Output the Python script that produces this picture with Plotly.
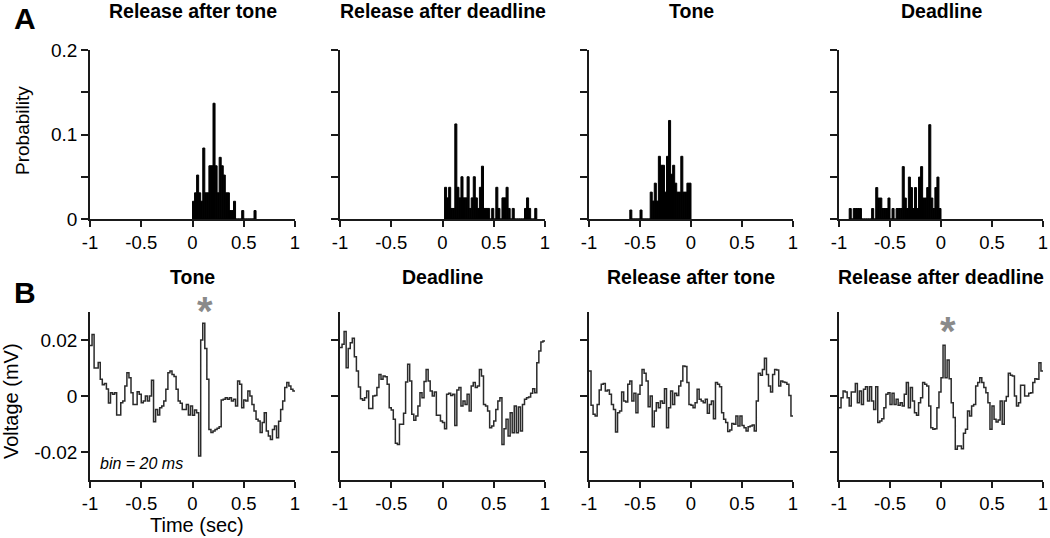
import plotly.graph_objects as go

BIN = 0.02
W, H = 1050, 538

# ---------------- Panel A: response-time histograms (probability per 20 ms bin) ----------------
rel_tone_start = 0.0
rel_tone_prob = [0.021, 0.031, 0.052, 0.031, 0.021, 0.084, 0.031, 0.031, 0.063, 0.063,
                 0.137, 0.063, 0.031, 0.073, 0.063, 0.052, 0.031, 0.031, 0.010, 0.010,
                 0.021, 0.0, 0.0, 0.0, 0.010, 0.0, 0.0, 0.0, 0.0, 0.0, 0.010]

rel_deadline_start = 0.02
rel_deadline_prob = [0.0375, 0.025, 0.0375, 0.0125, 0.0125, 0.1125, 0.0375, 0.025, 0.05, 0.025,
                     0.025, 0.05, 0.0125, 0.025, 0.05, 0.025, 0.0125, 0.0375, 0.0625, 0.0125,
                     0.0125, 0.0125, 0.0, 0.0125, 0.0, 0.0375, 0.0125, 0.0, 0.025, 0.025,
                     0.0375, 0.0125, 0.0, 0.0125, 0.0, 0.0, 0.0, 0.0, 0.0, 0.0125,
                     0.025, 0.0125, 0.0, 0.0, 0.0125]

tone_start = -0.60
tone_prob = [0.0106, 0.0, 0.0, 0.0, 0.0, 0.0106, 0.0, 0.0, 0.0, 0.0,
             0.0318, 0.0212, 0.0424, 0.0212, 0.0742, 0.0636, 0.0636, 0.0318, 0.0742, 0.1166,
             0.053, 0.0636, 0.0424, 0.0318, 0.0318, 0.0742, 0.0318, 0.0318, 0.0424, 0.0424]

deadline_start = -0.90
deadline_prob = [0.0124, 0.0, 0.0124, 0.0124, 0.0124, 0.0124, 0.0, 0.0, 0.0, 0.0,
                 0.0, 0.0124, 0.0, 0.0372, 0.0248, 0.0248, 0.0124, 0.0124, 0.0124, 0.0248,
                 0.0, 0.0124, 0.0, 0.0124, 0.0124, 0.0124, 0.062, 0.0248, 0.0124, 0.0496,
                 0.0372, 0.0124, 0.0372, 0.0124, 0.0496, 0.062, 0.0248, 0.0248, 0.0372, 0.1116,
                 0.0248, 0.0124, 0.0372, 0.0496, 0.0124]

# ---------------- Panel B: event-triggered voltage (mV), 100 bins of 20 ms from -1 to 1 ----------------
tone_mv = [0.018, 0.022, 0.010, 0.010, 0.012, 0.006, 0.004, 0.0045, 0.0025, -0.0025,
           0.0012, 0.0006, 0.0012, -0.0068, -0.0068, -0.0024, -0.0018, 0.0036, 0.0083, 0.0065,
           0.0012, -0.003, -0.003, 0.0015, 0.0006, -0.0024, -0.0018, 0.0, -0.0018, 0.0,
           0.0056, -0.0092, -0.0048, -0.0068, -0.0042, -0.0036, -0.0018, 0.0024, 0.0083, 0.0089,
           0.0077, 0.007, 0.0024, -0.0018, -0.0026, -0.0048, -0.0048, -0.003, -0.0068, -0.0036,
           -0.0069, -0.005, -0.006, -0.0214, 0.020, 0.026, 0.017, 0.006, -0.012, -0.013,
           -0.0125, -0.012, -0.0115, -0.011, -0.0014, -0.0012, -0.0006, -0.0012, -0.0006, -0.0018,
           -0.0012, -0.0036, 0.0054, 0.0042, -0.0042, -0.0014, -0.0018, 0.0018, 0.0, -0.003,
           -0.0054, -0.0083, -0.0089, -0.013, -0.0095, -0.006, -0.0125, -0.0143, -0.0155, -0.012,
           -0.0107, -0.0149, -0.009, -0.0048, -0.0018, 0.003, 0.0048, 0.0036, 0.0024, 0.0018]

deadline_mv = [0.0173, 0.0185, 0.023, 0.0101, 0.017, 0.019, 0.0206, 0.014, 0.0089, 0.0032,
               -0.001, -0.0015, -0.0006, 0.0018, -0.0045, -0.0045, 0.0, 0.0002, 0.003, 0.0077,
               0.006, 0.0071, 0.0069, 0.0042, -0.0042, -0.005, -0.0083, -0.0169, -0.0173, -0.0101,
               -0.0101, -0.0062, 0.005, 0.0113, 0.0054, -0.0065, -0.0087, -0.0071, -0.0036, 0.0012,
               -0.0006, 0.0052, 0.0095, 0.0054, 0.0018, 0.0, 0.0014, -0.0069, -0.0069, -0.0089,
               -0.0095, -0.0117, 0.0006, 0.001, 0.0002, 0.0006, -0.0105, 0.0021, 0.003, -0.0036,
               -0.0018, -0.003, 0.0006, -0.0054, 0.0036, 0.0048, 0.003, 0.0036, 0.0095, 0.0071,
               -0.003, -0.0036, -0.0054, -0.0113, -0.0107, -0.0089, -0.0048, -0.0018, -0.0006, -0.0173,
               -0.0117, -0.0083, -0.0143, -0.006, -0.0131, -0.0036, -0.0131, -0.0039, -0.0125, -0.003,
               -0.0012, -0.0006, -0.0004, 0.001, 0.0026, 0.0012, 0.0119, 0.0161, 0.0193, 0.0196]

rel_tone_mv = [0.0089, -0.0033, -0.0065, -0.0071, -0.003, 0.0021, 0.0042, 0.0045, 0.0018, 0.0021,
               0.0006, -0.003, -0.0048, -0.0129, -0.006, -0.0054, 0.0014, -0.0018, -0.0021, 0.0042,
               0.0054, -0.0018, 0.001, -0.006, 0.0006, 0.0038, 0.0095, 0.0081, 0.0054, -0.0038,
               0.0, -0.011, -0.0054, -0.0024, -0.0042, -0.0018, -0.0026, 0.0026, -0.0113, -0.0042,
               0.0018, -0.003, 0.001, 0.0002, 0.0036, 0.0054, 0.0107, 0.0105, 0.0048, -0.003,
               -0.0033, -0.0042, -0.0024, 0.0024, -0.0012, -0.0018, -0.0024, -0.0012, -0.0062, -0.003,
               -0.0018, -0.0081, 0.0048, 0.0042, 0.0033, -0.006, -0.0083, -0.0095, -0.0127, -0.0121,
               -0.0098, -0.0101, -0.0071, -0.0107, -0.0071, -0.0105, -0.0113, -0.0125, -0.011, -0.0107,
               -0.0104, -0.0125, -0.0018, 0.0081, 0.0074, 0.0095, 0.0135, 0.0077, 0.0036, 0.0014,
               0.0077, 0.0095, 0.0093, 0.0036, 0.0054, 0.005, 0.0048, 0.0042, 0.0002, -0.0071]

rel_deadline_mv = [-0.0042, -0.0006, 0.0018, 0.0014, -0.0006, -0.0036, 0.0014, 0.0014, 0.0045, -0.0024,
                   0.0018, -0.003, 0.0024, 0.0033, -0.0018, 0.0033, -0.0018, -0.0048, 0.0033, -0.0095,
                   -0.0089, -0.0081, -0.0042, 0.0006, 0.0012, -0.003, 0.001, -0.003, -0.0012, -0.0033,
                   -0.0024, -0.0036, 0.0006, 0.0048, -0.0042, 0.003, -0.0018, -0.006, -0.0069, -0.0024,
                   -0.0006, 0.0048, 0.0042, 0.0036, -0.0036, -0.0113, -0.0119, -0.0117, -0.0042, 0.0014,
                   0.0065, 0.0181, 0.0065, 0.0129, 0.0062, -0.0024, -0.0077, -0.019, -0.0179, -0.0179,
                   -0.0188, -0.0133, -0.0119, -0.0054, -0.0071, -0.0036, -0.003, 0.0036, 0.0048, 0.0065,
                   0.0048, 0.003, 0.0012, -0.0024, -0.0119, -0.0036, -0.0083, -0.0093, -0.0086, -0.0018,
                   -0.0101, -0.0018, -0.0002, 0.0081, 0.0074, 0.0071, 0.0, -0.0036, -0.0024, 0.0038,
                   0.0038, 0.0, 0.0, 0.001, 0.0012, 0.0048, 0.0062, 0.006, 0.0119, 0.0089]

top_titles = ["Release after tone", "Release after deadline", "Tone", "Deadline"]
bottom_titles = ["Tone", "Deadline", "Release after tone", "Release after deadline"]
hist_sets = [(rel_tone_start, rel_tone_prob), (rel_deadline_start, rel_deadline_prob),
             (tone_start, tone_prob), (deadline_start, deadline_prob)]
volt_sets = [tone_mv, deadline_mv, rel_tone_mv, rel_deadline_mv]

x_ticks = [-1, -0.5, 0, 0.5, 1]
x_ticktext = ["-1", "-0.5", "0", "0.5", "1"]
yA_ticks = [0, 0.05, 0.1, 0.15, 0.2]
yA_ticktext = ["0", "", "0.1", "", "0.2"]
yB_ticks = [-0.02, 0, 0.02]
yB_ticktext = ["-0.02", "0", "0.02"]

FONT = "Liberation Sans, Arial, sans-serif"
AX = "#1a1a1a"

# pixel layout (screen pixels)
col_px = [(90, 295), (340, 545), (589, 793), (839, 1043)]
rowA_px = (50, 219)
rowB_px = (312, 480)


def px_x(p):
    return p / W


def px_y(p):
    return 1 - p / H


fig = go.Figure()
layout = {}
annotations = []

for c in range(4):
    # ---- row A ----
    n = c + 1
    start, prob = hist_sets[c]
    centers = [start + BIN * (i + 0.5) for i in range(len(prob))]
    fig.add_trace(go.Bar(x=centers, y=prob, width=BIN,
                         marker=dict(color="black", line=dict(width=1, color="black")),
                         xaxis=f"x{n if n > 1 else ''}", yaxis=f"y{n if n > 1 else ''}",
                         showlegend=False, hoverinfo="skip"))
    # ---- row B ----
    m = c + 5
    vals = volt_sets[c]
    edges = [-1 + BIN * i for i in range(len(vals) + 1)]
    fig.add_trace(go.Scatter(x=edges, y=vals + [vals[-1]], mode="lines", line_shape="hv",
                             line=dict(color="#2b2b2b", width=1.5),
                             xaxis=f"x{m}", yaxis=f"y{m}", showlegend=False, hoverinfo="skip"))

    for idx, rowpx, yr, yt, ytt in [(n, rowA_px, [0, 0.2], yA_ticks, yA_ticktext),
                                      (m, rowB_px, [-0.03, 0.03], yB_ticks, yB_ticktext)]:
        key = "" if idx == 1 else str(idx)
        x0, x1 = col_px[c]
        layout[f"xaxis{key}"] = dict(
            domain=[px_x(x0), px_x(x1)], range=[-1, 1], anchor=f"y{key}",
            showline=True, linecolor=AX, linewidth=1.5, ticks="outside", ticklen=6,
            tickwidth=1.5, tickcolor=AX, tickvals=x_ticks, ticktext=x_ticktext,
            showgrid=False, zeroline=False, automargin=False,
            tickfont=dict(family=FONT, size=18.5, color="black"))
        layout[f"yaxis{key}"] = dict(
            domain=[px_y(rowpx[1]), px_y(rowpx[0])], range=yr, anchor=f"x{key}",
            showline=True, linecolor=AX, linewidth=1.5, ticks="outside", ticklen=7,
            tickwidth=1.5, tickcolor=AX, tickvals=yt,
            ticktext=ytt if c == 0 else [""] * len(yt),
            showgrid=False, zeroline=False, automargin=False,
            tickfont=dict(family=FONT, size=19, color="black"))

    cx = px_x((col_px[c][0] + col_px[c][1]) / 2)
    annotations.append(dict(text=f"<b>{top_titles[c]}</b>", x=cx, y=px_y(11), xref="paper", yref="paper",
                            showarrow=False, xanchor="center", yanchor="middle",
                            font=dict(family=FONT, size=19.5, color="black")))
    annotations.append(dict(text=f"<b>{bottom_titles[c]}</b>", x=cx, y=px_y(277), xref="paper", yref="paper",
                            showarrow=False, xanchor="center", yanchor="middle",
                            font=dict(family=FONT, size=19.5, color="black")))

# panel letters
annotations.append(dict(text="<b>A</b>", x=px_x(25), y=px_y(19), xref="paper", yref="paper", showarrow=False,
                        xanchor="center", yanchor="middle", font=dict(family=FONT, size=30, color="black")))
annotations.append(dict(text="<b>B</b>", x=px_x(25), y=px_y(292), xref="paper", yref="paper", showarrow=False,
                        xanchor="center", yanchor="middle", font=dict(family=FONT, size=30, color="black")))
# axis titles
annotations.append(dict(text="Probability", x=px_x(23), y=px_y(131), xref="paper", yref="paper", showarrow=False,
                        textangle=-90, xanchor="center", yanchor="middle",
                        font=dict(family=FONT, size=19, color="black")))
annotations.append(dict(text="Voltage (mV)", x=px_x(11), y=px_y(401), xref="paper", yref="paper", showarrow=False,
                        textangle=-90, xanchor="center", yanchor="middle",
                        font=dict(family=FONT, size=20, color="black")))
annotations.append(dict(text="Time (sec)", x=px_x(197), y=px_y(525), xref="paper", yref="paper", showarrow=False,
                        xanchor="center", yanchor="middle", font=dict(family=FONT, size=20, color="black")))
annotations.append(dict(text="<i>bin = 20 ms</i>", x=px_x(141), y=px_y(463), xref="paper", yref="paper",
                        showarrow=False, xanchor="center", yanchor="middle",
                        font=dict(family=FONT, size=16, color="black")))
# significance asterisks
for ax_px, ay_px in [(204.5, 311), (947.5, 331)]:
    annotations.append(dict(text="<b>*</b>", x=px_x(ax_px), y=px_y(ay_px), xref="paper", yref="paper",
                            showarrow=False, xanchor="center", yanchor="middle",
                            font=dict(family=FONT, size=40, color="#8a8a8a")))

fig.update_layout(width=W, height=H, margin=dict(l=0, r=0, t=0, b=0, autoexpand=False),
                  plot_bgcolor="white", paper_bgcolor="white", annotations=annotations, **layout)

# remove the default 8px page margin so the figure fills the window exactly
fig.write_html("out.html", config={"displayModeBar": False},
               post_script="document.body.style.margin='0';")
